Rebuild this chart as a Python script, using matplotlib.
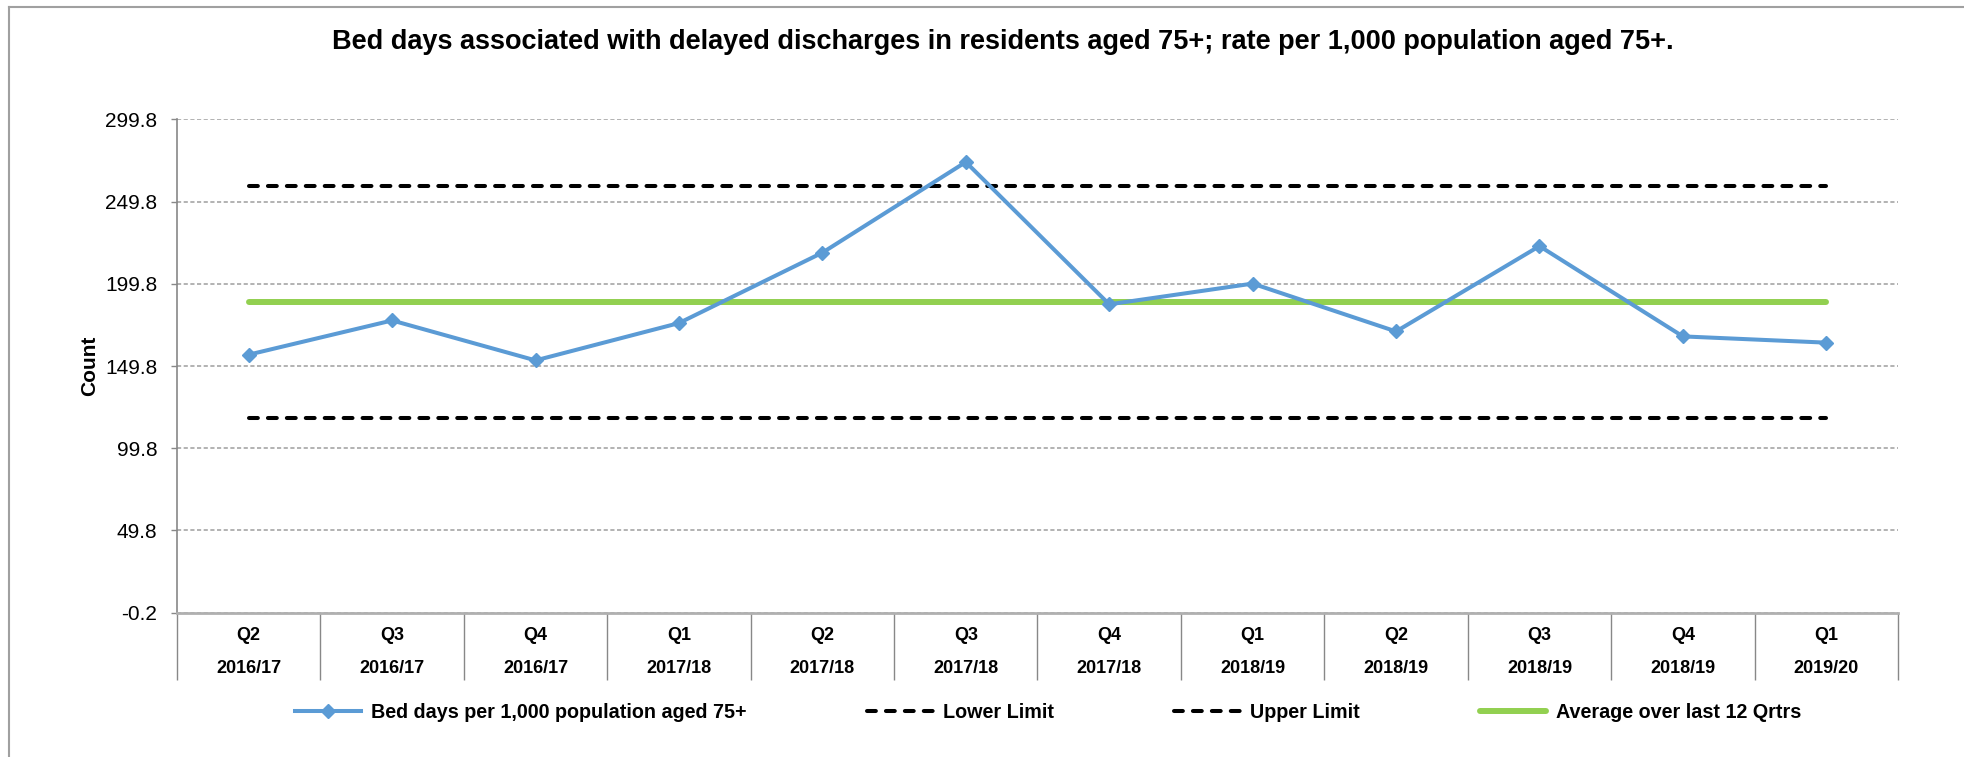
import matplotlib
matplotlib.use('Agg')
import matplotlib.pyplot as plt
from matplotlib.lines import Line2D
import numpy as np

plt.rcParams['font.family'] = ['Liberation Sans', 'DejaVu Sans']

# data
quarters = ['Q2', 'Q3', 'Q4', 'Q1', 'Q2', 'Q3', 'Q4', 'Q1', 'Q2', 'Q3', 'Q4', 'Q1']
years = ['2016/17', '2016/17', '2016/17', '2017/18', '2017/18', '2017/18',
         '2017/18', '2018/19', '2018/19', '2018/19', '2018/19', '2019/20']
bed_days = [156.7, 177.5, 153.2, 175.9, 218.7, 273.8, 187.3, 199.9, 170.8, 222.7, 167.8, 164.0]
lower_limit = 118.1
upper_limit = 259.2
average = 188.7
y_ticks = [-0.2, 49.8, 99.8, 149.8, 199.8, 249.8, 299.8]

W, H = 1965, 757
fig = plt.figure(figsize=(W / 100, H / 100), dpi=100)
ax = fig.add_axes([177 / W, 1 - 612.7 / H, (1898 - 177) / W, (612.7 - 119.3) / H])

x = np.arange(len(bed_days))

ax.plot(x, [lower_limit] * len(x), color='black', lw=2.9, dashes=(2.2, 2.5),
        dash_capstyle='round', label='Lower Limit', zorder=3)
ax.plot(x, [upper_limit] * len(x), color='black', lw=2.9, dashes=(2.2, 2.5),
        dash_capstyle='round', label='Upper Limit', zorder=3)
ax.plot(x, [average] * len(x), color='#92D050', lw=4.3, solid_capstyle='round',
        label='Average over last 12 Qrtrs', zorder=3)
ax.plot(x, bed_days, color='#5B9BD5', lw=2.9, marker='D', ms=7.5,
        label='Bed days per 1,000 population aged 75+', zorder=4)

ax.set_xlim(-0.5, len(x) - 0.5)
ax.set_ylim(y_ticks[0], y_ticks[-1])
ax.set_yticks(y_ticks)
ax.set_yticklabels([f'{v:.1f}' for v in y_ticks], fontsize=15)
ax.tick_params(axis='y', length=4.3, width=1, color='#888888', pad=10)

ax.set_xticks(x)
ax.set_xticklabels([f'{q}\n{y}' for q, y in zip(quarters, years)],
                   fontsize=13, fontweight='bold', linespacing=2.25)
ax.tick_params(axis='x', which='major', length=0, pad=10)
ax.set_xticks(np.arange(len(x) + 1) - 0.5, minor=True)
ax.tick_params(axis='x', which='minor', length=48, width=1, color='#888888')

ax.grid(axis='y', color='#a6a6a6', lw=1.2, ls=(0, (2.5, 1.5)))
ax.set_axisbelow(True)
for s in ['top', 'right']:
    ax.spines[s].set_visible(False)
ax.spines['left'].set_color('#888888')
ax.spines['left'].set_linewidth(1.2)
ax.spines['bottom'].set_color('#b0b0b0')
ax.spines['bottom'].set_linewidth(2)

ax.set_ylabel('Count', fontsize=15, fontweight='bold', labelpad=4)

fig.text(1003 / W, 1 - 42 / H,
         'Bed days associated with delayed discharges in residents aged 75+; rate per 1,000 population aged 75+.',
         ha='center', va='center', fontsize=19.5, fontweight='bold')

h, l = ax.get_legend_handles_labels()
order = [3, 0, 1, 2]
fig.legend([h[i] for i in order], [l[i] for i in order], loc='center',
           bbox_to_anchor=(1048 / W, 1 - 712 / H), ncol=4, frameon=False,
           prop={'size': 14.2, 'weight': 'bold'}, handlelength=3.35,
           handletextpad=0.5, columnspacing=6.1)

# chart frame (top and left edges)
fig.add_artist(Line2D([9 / W, 9 / W], [0, 1 - 7 / H], color='#a0a0a0', lw=1.5))
fig.add_artist(Line2D([9 / W, 1], [1 - 7 / H, 1 - 7 / H], color='#a0a0a0', lw=1.5))

fig.savefig('out.png', dpi=100)
